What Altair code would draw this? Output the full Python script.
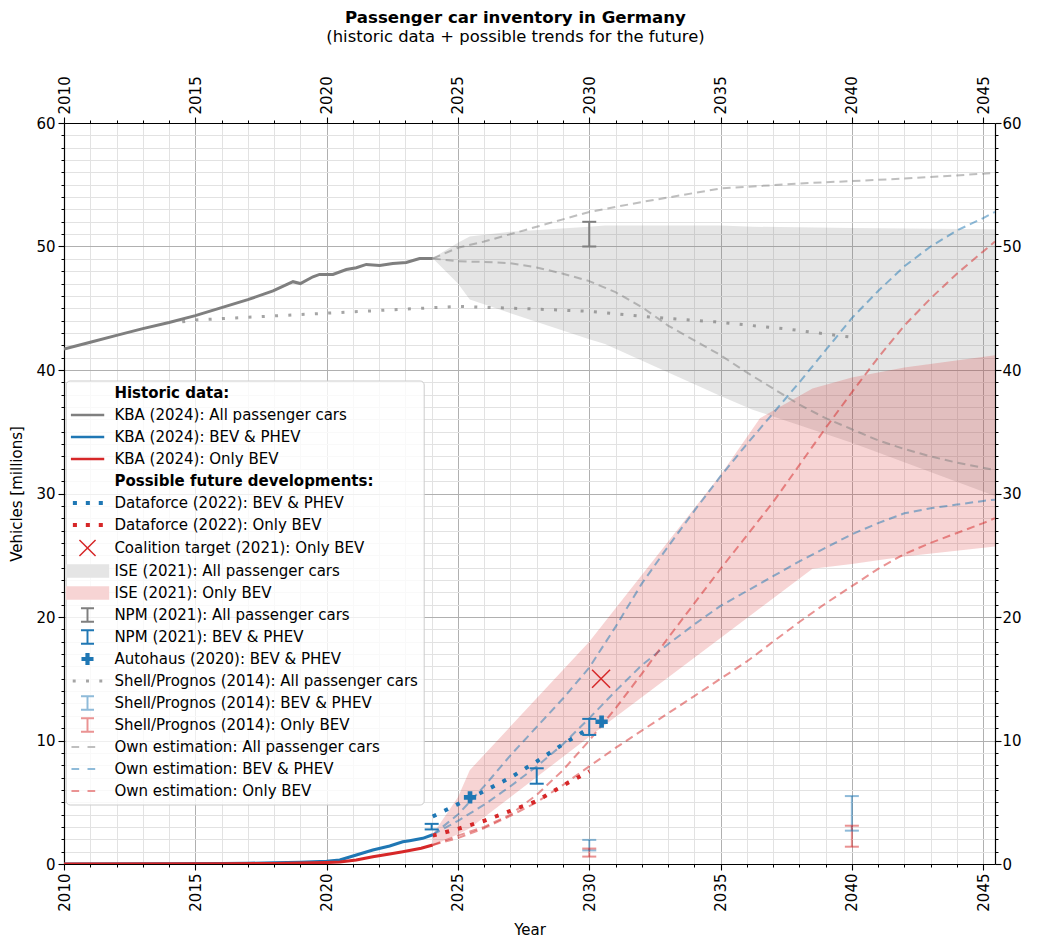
import altair as alt
import pandas as pd

GRAY, BLUE, RED = "#7f7f7f", "#1f77b4", "#d62728"
FONT = "DejaVu Sans"
FS = 15

# ---------------- data ----------------
# KBA historic data
kba_all_years = [2010, 2011, 2012, 2013, 2014, 2015, 2016, 2017, 2017.96, 2018.72, 2019.0,
                 2019.48, 2019.73, 2020.24, 2020.75, 2021.13, 2021.51, 2022.02, 2022.52,
                 2023.03, 2023.54, 2024.04]
kba_all_vals = [41.7, 42.25, 42.8, 43.35, 43.85, 44.4, 45.05, 45.7, 46.4, 47.15, 47.0,
                47.55, 47.74, 47.74, 48.14, 48.28, 48.55, 48.47, 48.63, 48.7, 49.03, 49.03]
kba_bev_phev_years = [2010, 2014, 2016, 2017, 2018, 2019, 2020, 2020.5, 2021.13, 2021.76,
                      2022.4, 2022.9, 2023.16, 2023.66, 2024.04]
kba_bev_phev_vals = [0.0, 0.02, 0.04, 0.06, 0.1, 0.15, 0.22, 0.33, 0.73, 1.13, 1.46, 1.8,
                     1.89, 2.08, 2.37]
kba_bev_years = [2010, 2016, 2018, 2019, 2020, 2020.5, 2021.13, 2021.76, 2022.4, 2022.9,
                 2023.6, 2024.04]
kba_bev_vals = [0.0, 0.02, 0.05, 0.08, 0.12, 0.16, 0.32, 0.59, 0.81, 1.0, 1.27, 1.54]

# Dataforce (2022)
dataforce_years = [2024.04, 2025, 2026, 2027, 2028, 2029, 2030]
dataforce_bev_phev = [3.85, 4.85, 5.9, 7.0, 8.3, 9.7, 11.0]
dataforce_bev = [2.3, 2.84, 3.5, 4.3, 5.1, 6.35, 7.5]

# Shell/Prognos (2014): all passenger cars
shell_all_years = [2014.5, 2015, 2020, 2025, 2027.8, 2030, 2032.3, 2034.8, 2037.6, 2040]
shell_all_vals = [43.9, 44.05, 44.6, 45.15, 44.95, 44.75, 44.3, 43.9, 43.3, 42.65]

# Shell/Prognos (2014) ranges
shell_bar_years = [2030, 2030, 2040, 2040]
shell_bar_kind = ["BEV & PHEV", "Only BEV", "BEV & PHEV", "Only BEV"]
shell_bar_low = [1.1, 0.6, 2.7, 1.4]
shell_bar_high = [1.95, 1.25, 5.5, 3.1]

# NPM (2021) ranges
npm_years = [2030, 2024, 2028, 2030]
npm_kind = ["All", "BEV & PHEV", "BEV & PHEV", "BEV & PHEV"]
npm_low = [50.0, 2.8, 6.5, 10.45]
npm_high = [52.0, 3.25, 7.75, 11.75]

# Autohaus (2020), coalition target (2021)
autohaus_years = [2025.46, 2030.47]
autohaus_vals = [5.4, 11.52]
coalition_years = [2030.45]
coalition_vals = [15.0]

# ISE (2021) bands
ise_all_years = [2024.04, 2025, 2025.45, 2027, 2030, 2030.6, 2035, 2036.2, 2040, 2045.45]
ise_all_upper = [49.05, 50.3, 50.8, 51.2, 51.6, 51.7, 51.7, 51.6, 51.5, 51.4]
ise_all_lower = [49.05, 47.0, 45.7, 44.6, 42.5, 42.1, 37.9, 36.8, 34.1, 29.8]
ise_bev_years = [2024.04, 2025, 2025.45, 2030, 2035, 2036.5, 2038.5, 2040, 2042, 2045.45]
ise_bev_upper = [2.4, 5.4, 7.6, 18.0, 31.5, 36.1, 38.5, 39.4, 40.2, 41.2]
ise_bev_lower = [1.5, 2.4, 2.9, 10.3, 18.3, 20.7, 23.9, 24.3, 24.9, 25.7]

# Own estimations
own_all_high_years = [2024.04, 2025, 2026, 2027, 2028, 2030, 2032, 2035, 2038, 2040, 2042, 2045.45]
own_all_high = [49.03, 49.9, 50.4, 51.0, 51.6, 52.8, 53.6, 54.7, 55.1, 55.3, 55.5, 55.95]
own_all_low_years = [2024.04, 2025, 2026, 2027, 2028, 2029, 2030, 2031, 2032, 2033, 2034,
                     2035, 2036, 2037, 2038, 2039, 2040, 2041, 2042, 2043, 2044, 2045.45]
own_all_low = [49.03, 48.8, 48.75, 48.65, 48.3, 47.8, 47.2, 46.3, 45.1, 43.6, 42.4, 41.2,
               39.8, 38.5, 37.2, 36.1, 35.2, 34.3, 33.6, 33.0, 32.5, 31.9]
own_years = [2024.04, 2025, 2026, 2027, 2028, 2029, 2030, 2031, 2032, 2033, 2034, 2035,
             2036, 2037, 2038, 2039, 2040, 2041, 2042, 2043, 2044, 2045, 2045.45]
own_bev_phev_high = [2.37, 4.0, 6.3, 8.8, 11.1, 13.4, 15.9, 19.2, 22.7, 25.7, 28.6, 31.4,
                     34.0, 36.5, 39.0, 41.6, 44.2, 46.4, 48.4, 50.0, 51.3, 52.3, 52.8]
own_bev_phev_low = [2.37, 3.5, 4.8, 6.3, 7.9, 9.7, 11.8, 14.0, 16.1, 17.8, 19.4, 20.9,
                    22.1, 23.3, 24.5, 25.6, 26.7, 27.6, 28.4, 28.8, 29.1, 29.4, 29.5]
own_bev_high = [1.54, 2.3, 3.0, 4.0, 5.6, 7.6, 10.0, 12.6, 15.4, 18.3, 21.1, 23.9,
                26.6, 29.3, 32.3, 35.3, 38.2, 41.0, 43.6, 45.8, 47.8, 49.6, 50.4]
own_bev_low = [1.54, 2.1, 2.9, 3.9, 5.0, 6.4, 7.9, 9.4, 10.8, 12.2, 13.6, 15.0,
               16.4, 18.0, 19.6, 21.1, 22.5, 23.9, 25.1, 26.0, 26.8, 27.6, 28.0]

legend_labels = [
    "Historic data:",
    "KBA (2024): All passenger cars",
    "KBA (2024): BEV & PHEV",
    "KBA (2024): Only BEV",
    "Possible future developments:",
    "Dataforce (2022): BEV & PHEV",
    "Dataforce (2022): Only BEV",
    "Coalition target (2021): Only BEV",
    "ISE (2021): All passenger cars",
    "ISE (2021): Only BEV",
    "NPM (2021): All passenger cars",
    "NPM (2021): BEV & PHEV",
    "Autohaus (2020): BEV & PHEV",
    "Shell/Prognos (2014): All passenger cars",
    "Shell/Prognos (2014): BEV & PHEV",
    "Shell/Prognos (2014): Only BEV",
    "Own estimation: All passenger cars",
    "Own estimation: BEV & PHEV",
    "Own estimation: Only BEV",
]
headers = ["Historic data:", "Possible future developments:"]

major_years = [2010, 2015, 2020, 2025, 2030, 2035, 2040, 2045]
minor_years = [y for y in range(2010, 2046) if y % 5 != 0]
major_vals = [0, 10, 20, 30, 40, 50, 60]
minor_vals = [v for v in range(0, 61) if v % 10 != 0]

# ---------------- scales and axes ----------------
x_scale = alt.Scale(domain=[2010, 2045.45], nice=False, zero=False)
y_scale = alt.Scale(domain=[0, 60], nice=False)
kind_scale = alt.Scale(domain=["All", "BEV & PHEV", "Only BEV"], range=[GRAY, BLUE, RED])

base_axis = dict(labelFont=FONT, labelFontSize=FS, labelColor="black", tickColor="black",
                 tickWidth=1.1, domainColor="black", domainWidth=1.2, titleFont=FONT,
                 titleFontSize=FS, titleFontWeight="normal", titleColor="black",
                 labelOverlap=False)

def major_axis(orient, values, title=None, grid=False, labelPadding=3, **kw):
    return alt.Axis(orient=orient, values=values, tickSize=6, labelPadding=labelPadding, format="d",
                    grid=grid, gridColor="#b0b0b0", gridWidth=1, title=title, **kw, **base_axis)

def minor_axis(orient, values, grid=False):
    return alt.Axis(orient=orient, values=values, tickSize=3, labels=False, domain=False,
                    grid=grid, gridColor="#e2e2e2", gridWidth=1, title=None,
                    tickColor="black", tickWidth=1)

ax_xb = major_axis("bottom", major_years, title="Year", grid=True, labelAngle=270, titlePadding=11)
ax_xt = major_axis("top", major_years, labelAngle=270)
ax_yl = major_axis("left", major_vals, title="Vehicles [millions]", grid=True, titlePadding=11)
ax_yr = major_axis("right", major_vals, labelPadding=1)
ax_xb_m = minor_axis("bottom", minor_years, grid=True)
ax_xt_m = minor_axis("top", minor_years)
ax_yl_m = minor_axis("left", minor_vals, grid=True)
ax_yr_m = minor_axis("right", minor_vals)


def X(axis=None):
    return alt.X("year:Q", scale=x_scale, axis=axis)


def line(years, vals, color, width, dash=None, opacity=1.0, xaxis=None, yaxis=None):
    kw = dict(color=color, strokeWidth=width, opacity=opacity, clip=True)
    if dash:
        kw["strokeDash"] = dash
    df = pd.DataFrame({"year": years, "value": vals})
    return alt.Chart(df).mark_line(**kw).encode(
        x=X(xaxis), y=alt.Y("value:Q", scale=y_scale, axis=yaxis))


def band(years, upper, lower, color, xaxis=None, yaxis=None):
    df = pd.DataFrame({"year": years, "upper": upper, "lower": lower})
    return alt.Chart(df).mark_area(color=color, opacity=0.2, clip=True).encode(
        x=X(xaxis), y=alt.Y("upper:Q", scale=y_scale, axis=yaxis), y2="lower:Q")


def errbars(years, kinds, low, high, opacity):
    df = pd.DataFrame({"year": years, "kind": kinds, "low": low, "high": high})
    col = alt.Color("kind:N", scale=kind_scale, legend=None)
    base = alt.Chart(df)
    stem = base.mark_rule(strokeWidth=2, opacity=opacity).encode(
        x=X(), y=alt.Y("low:Q", scale=y_scale, axis=None), y2="high:Q", color=col)
    cap_lo = base.mark_point(shape="stroke", size=196, strokeWidth=2, filled=False,
                             opacity=opacity).encode(
        x=X(), y=alt.Y("low:Q", scale=y_scale, axis=None), color=col)
    cap_hi = base.mark_point(shape="stroke", size=196, strokeWidth=2, filled=False,
                             opacity=opacity).encode(
        x=X(), y=alt.Y("high:Q", scale=y_scale, axis=None), color=col)
    return [stem, cap_lo, cap_hi]


PLUS = "M-0.38,-1H0.38V-0.38H1V0.38H0.38V1H-0.38V0.38H-1V-0.38H-0.38Z"
CROSS = "M-1,-1L1,1M-1,1L1,-1"

layers = []
layers.append(band(ise_all_years, ise_all_upper, ise_all_lower, GRAY, ax_xb, ax_yl))
layers.append(band(ise_bev_years, ise_bev_upper, ise_bev_lower, RED, ax_xb_m, ax_yl_m))
layers.append(line(shell_all_years, shell_all_vals, GRAY, 3, dash=[3, 10.3], opacity=0.7))
layers.append(line(own_all_high_years, own_all_high, GRAY, 2, dash=[8, 5], opacity=0.5))
layers.append(line(own_all_low_years, own_all_low, GRAY, 2, dash=[8, 5], opacity=0.5))
layers.append(line(own_years, own_bev_phev_high, BLUE, 2, dash=[8, 5], opacity=0.5))
layers.append(line(own_years, own_bev_phev_low, BLUE, 2, dash=[8, 5], opacity=0.5))
layers.append(line(own_years, own_bev_high, RED, 2, dash=[8, 5], opacity=0.5))
layers.append(line(own_years, own_bev_low, RED, 2, dash=[8, 5], opacity=0.5))
layers.append(line(dataforce_years, dataforce_bev_phev, BLUE, 4, dash=[4, 9]))
layers.append(line(dataforce_years, dataforce_bev, RED, 4, dash=[4, 9]))
layers.append(line(kba_all_years, kba_all_vals, GRAY, 3, xaxis=ax_xt, yaxis=ax_yr))
layers.append(line(kba_bev_phev_years, kba_bev_phev_vals, BLUE, 3, xaxis=ax_xt_m, yaxis=ax_yr_m))
layers.append(line(kba_bev_years, kba_bev_vals, RED, 3))
layers += errbars(shell_bar_years, shell_bar_kind, shell_bar_low, shell_bar_high, 0.5)
layers += errbars(npm_years, npm_kind, npm_low, npm_high, 1.0)
layers.append(alt.Chart(pd.DataFrame({"year": autohaus_years, "value": autohaus_vals}))
              .mark_point(shape=PLUS, size=150, filled=True, color=BLUE, opacity=1, strokeWidth=0)
              .encode(x=X(), y=alt.Y("value:Q", scale=y_scale, axis=None)))
layers.append(alt.Chart(pd.DataFrame({"year": coalition_years, "value": coalition_vals}))
              .mark_point(shape=CROSS, size=324, filled=False, color=RED, opacity=1, strokeWidth=1.5)
              .encode(x=X(), y=alt.Y("value:Q", scale=y_scale, axis=None)))

# ---------------- legend (native Vega legend with custom symbols) ----------------
def rect(x0, x1, y0, y1):
    return f"M{x0},{y0}H{x1}V{y1}H{x0}Z"

EXT = "M-3.1,-1.15M3.1,1.15"
a, d = 1.15, 0.076
sym_none = EXT
sym_solid = rect(-2.37, 2.39, -0.19, 0.19) + EXT
sym_dot_big = "".join(rect(round(c - 0.29, 3), round(c + 0.29, 3), -0.29, 0.29) for c in (-1.8, 0.05, 1.9)) + EXT
sym_dot_small = "".join(rect(round(c - 0.21, 3), round(c + 0.21, 3), -0.21, 0.21) for c in (-1.9, 0.0, 1.9)) + EXT
sym_dash = rect(-2.29, -1.19, -0.15, 0.15) + rect(0.0, 1.1, -0.15, 0.15) + EXT
sym_band = rect(-3.09, 3.1, -0.95, 0.95) + EXT
sym_x = (f"M{-a + d},{-a - d}L{a + d},{a - d}L{a - d},{a + d}L{-a - d},{-a + d}Z"
         f"M{-a - d},{a - d}L{a - d},{-a - d}L{a + d},{-a + d}L{-a + d},{a + d}Z") + EXT
sym_ibar = (rect(-0.93, 0.93, -1.12, -0.83) + rect(-0.14, 0.14, -0.83, 0.83)
            + rect(-0.93, 0.93, 0.83, 1.12) + EXT)
sym_plus = "M-0.3,-0.86H0.3V-0.3H0.86V0.3H0.3V0.86H-0.3V0.3H-0.86V-0.3H-0.3Z" + EXT

legend_shapes = [sym_none, sym_solid, sym_solid, sym_solid, sym_none, sym_dot_big, sym_dot_big,
                 sym_x, sym_band, sym_band, sym_ibar, sym_ibar, sym_plus, sym_dot_small,
                 sym_ibar, sym_ibar, sym_dash, sym_dash, sym_dash]
legend_fills = ["transparent", GRAY, BLUE, RED, "transparent", BLUE, RED, RED, "#e5e5e5",
                "#f7d4d4", GRAY, BLUE, BLUE, "#a5a5a5", "#8fbbd9", "#ea9393", "#bfbfbf",
                "#8fbbd9", "#ea9393"]

bold_expr = "indexof(" + str(headers).replace('"', "'") + ", datum.value) >= 0 ? 'bold' : 'normal'"
leg = alt.Legend(orient="none", legendX=1.7, legendY=257.5, direction="vertical", title=None,
                 padding=5, rowPadding=5, symbolOffset=9.3, labelOffset=19.4,
                 labelFont=FONT, labelFontSize=FS, labelColor="black", labelLimit=600,
                 fillColor="rgba(255,255,255,0.8)", strokeColor="#cccccc", cornerRadius=4,
                 symbolSize=196, symbolStrokeWidth=0, symbolOpacity=1,
                 labelFontWeight=alt.ExprRef(expr=bold_expr))

legend_layer = (alt.Chart(pd.DataFrame({"label": legend_labels}))
                .mark_point(filled=True, opacity=1, strokeWidth=0)
                .encode(shape=alt.Shape("label:N", scale=alt.Scale(domain=legend_labels, range=legend_shapes), legend=leg),
                        fill=alt.Fill("label:N", scale=alt.Scale(domain=legend_labels, range=legend_fills), legend=leg))
                .transform_filter("false"))
layers.append(legend_layer)

chart = (alt.layer(*layers)
         .resolve_axis(x="independent", y="independent")
         .properties(
             width=931, height=741,
             title=alt.TitleParams(
                 text="Passenger car inventory in Germany",
                 subtitle="(historic data + possible trends for the future)",
                 font=FONT, fontSize=16.6, fontWeight="bold", color="black",
                 subtitleFont=FONT, subtitleFontSize=16.4, subtitleColor="black",
                 subtitlePadding=3, anchor="middle", frame="bounds", offset=30),
             autosize=alt.AutoSizeParams(type="none"),
             padding={"left": 56, "top": 115, "right": 35, "bottom": 75})
         .configure(font=FONT)
         .configure_view(stroke=None))

chart.save("out.html", embed_options={"renderer": "svg", "actions": False})
